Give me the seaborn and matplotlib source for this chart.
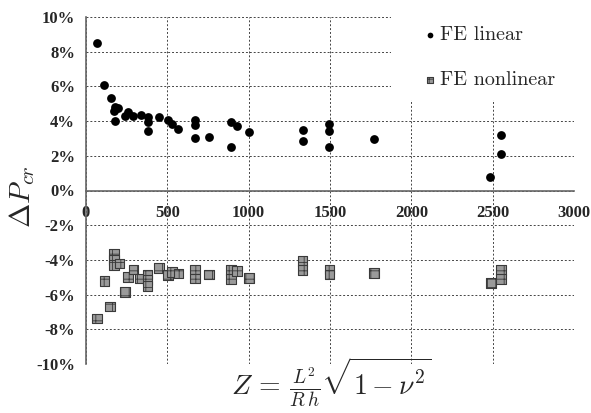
import matplotlib
matplotlib.use("Agg")
import matplotlib.pyplot as plt
import seaborn as sns
import pandas as pd
from matplotlib.patches import Rectangle
from matplotlib.ticker import FuncFormatter

# ---- data ----
lin_z = [65, 111, 152, 178, 199, 174, 178, 240, 260, 287, 338, 383, 383, 383,
         449, 506, 527, 568, 670, 670, 670, 756, 891, 926, 891, 1002, 1332,
         1332, 1496, 1496, 1496, 1771, 2550, 2550, 2484]
lin_dp = [8.5, 6.1, 5.34, 4.79, 4.73, 4.6, 4.02, 4.29, 4.54, 4.31, 4.35, 4.25,
          3.96, 3.42, 4.25, 4.06, 3.83, 3.52, 4.06, 3.77, 3.0, 3.1, 3.96, 3.71,
          2.48, 3.38, 3.48, 2.86, 3.81, 3.44, 2.52, 2.98, 3.21, 2.1, 0.77]

nl_z = [66, 148, 113, 240, 174, 174, 174, 205, 260, 291, 332, 379, 379, 379,
        449, 506, 527, 568, 670, 670, 756, 891, 891, 930, 1002, 1332, 1332,
        1496, 1496, 1771, 2488, 2550, 2550]
nl_dp = [-7.37, -6.68, -5.2, -5.84, -3.67, -4.01, -4.30, -4.2, -4.97, -4.55,
         -5.07, -4.84, -5.16, -5.49, -4.45, -4.88, -4.68, -4.78, -4.55, -5.07,
         -4.84, -4.59, -5.11, -4.63, -5.03, -4.05, -4.59, -4.55, -4.84, -4.74,
         -5.32, -4.59, -5.11]

series_labels = ["FE linear", "FE nonlinear"]
x_ticks = [0, 500, 1000, 1500, 2000, 2500, 3000]
y_ticks = [-10, -8, -6, -4, -2, 0, 2, 4, 6, 8, 10]

df_lin = pd.DataFrame({"Z": lin_z, "dP": lin_dp})
df_nl = pd.DataFrame({"Z": nl_z, "dP": nl_dp})

sns.set_style("white")
plt.rcParams["mathtext.fontset"] = "cm"
plt.rcParams["hatch.color"] = "#d8d8d8"
plt.rcParams["hatch.linewidth"] = 0.6

W, H = 591, 413
fig = plt.figure(figsize=(W / 100, H / 100), dpi=100)
L, R, T, B = 86, 574, 17, 364
ax = fig.add_axes([L / W, 1 - B / H, (R - L) / W, (B - T) / H])

sns.scatterplot(data=df_lin, x="Z", y="dP", ax=ax, marker="o", s=40,
                color="black", edgecolor="black", linewidth=0,
                label=series_labels[0], zorder=3)
sns.scatterplot(data=df_nl, x="Z", y="dP", ax=ax, marker="s", s=48,
                color="#9a9a9a", edgecolor="#3a3a3a", linewidth=0.8,
                hatch="++", label=series_labels[1], zorder=3)

ax.set_xlim(0, 3000)
ax.set_ylim(-10, 10)
ax.set_xticks(x_ticks)
ax.set_yticks(y_ticks)
ax.yaxis.set_major_formatter(FuncFormatter(lambda v, p: f"{v:.0f}%"))

ax.grid(True, linestyle=(0, (2, 2)), color="#444444", linewidth=0.7)
ax.set_axisbelow(True)
for s in ["top", "right"]:
    ax.spines[s].set_visible(False)
ax.spines["bottom"].set_position(("data", 0))
for s in ["left", "bottom"]:
    ax.spines[s].set_color("#666666")
    ax.spines[s].set_linewidth(1.2)

ax.tick_params(axis="y", direction="out", length=3, width=0.8,
               color="#666666", pad=5)
ax.tick_params(axis="x", direction="inout", length=5, width=0.8,
               color="#666666", pad=8)
for lab in ax.get_xticklabels() + ax.get_yticklabels():
    lab.set_fontfamily("Liberation Serif")
    lab.set_fontweight("bold")
    lab.set_fontsize(12)

# white legend area covering the grid (as in the reference)
ax.add_patch(Rectangle(((391 - L) / (R - L), (B - 100) / (B - T)),
                       0.5, 0.5, transform=ax.transAxes, facecolor="white",
                       edgecolor="none", zorder=1, clip_on=False))

ax.set_xlabel("")
ax.set_ylabel("")
fig.text(22 / W, 1 - 197 / H, r"$\Delta P_{cr}$", rotation=90,
         ha="center", va="center", fontsize=21)
fig.text(331 / W, 1 - 408 / H, r"$Z\,=\,\frac{L^2}{R\,h}\sqrt{1-\nu^2}$",
         ha="center", va="bottom", fontsize=20)

leg = ax.legend(loc="upper left", bbox_to_anchor=(415 / W, 1 - 16 / H),
                bbox_transform=fig.transFigure, frameon=False,
                prop=dict(family="cmr10", size=14.5), markerscale=0.65,
                handlelength=0.5, handletextpad=0.25, labelspacing=1.35,
                borderpad=0)
leg.set_zorder(4)

fig.savefig("out.png", dpi=100)
